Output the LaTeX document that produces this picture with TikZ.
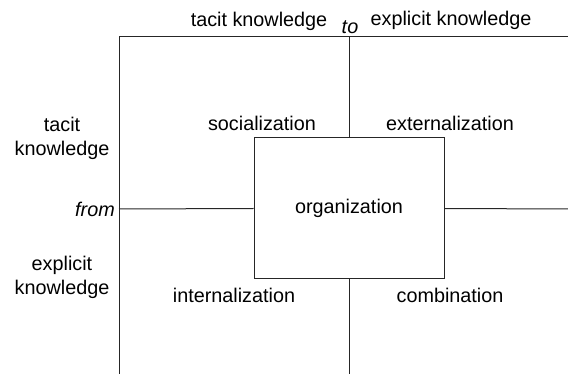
\documentclass[tikz,border=0pt]{standalone}
\usepackage{fontspec}
\setmainfont{Liberation Sans}
\usetikzlibrary{positioning}

\begin{document}
\begin{tikzpicture}[x=1pt,y=-1pt,
  lbl/.style={font=\fontsize{19.8}{24}\selectfont,inner sep=0pt},
  side/.style={lbl,align=center},
  grid/.style={line width=1pt,draw=black!85}]
  \useasboundingbox (0,0) rectangle (568,374);
  % frame corners
  \coordinate (tl) at (119,37);
  \coordinate (tr) at (568,37);
  \coordinate (bl) at (119,374);
  \coordinate (tm) at (349,37);
  \coordinate (bm) at (349,374);
  \coordinate (ml) at (119,209);
  \coordinate (mr) at (568,209);
  % center box
  \node[grid,lbl,minimum width=190pt,minimum height=141pt] (org) at (349,208.5) {organization};
  % lines
  \draw[grid] (tr) -- (tl) -- (bl);
  \draw[grid] (tm) -- (org.north);
  \draw[grid] (org.south) -- (bm);
  \draw[grid] (ml) -- (org.west);
  \draw[grid] (org.east) -- (mr);
  % headings
  \node[lbl] (tacitTo) at (259,21) {tacit knowledge};
  \node[lbl,font=\fontsize{19.8}{24}\selectfont\itshape] (to) at (350,27) {to};
  \node[lbl] (explicitTo) at (451,20) {explicit knowledge};
  \node[side] (tacitFrom) at (62,138) {tacit\\knowledge};
  \node[lbl,anchor=east,font=\fontsize{19.8}{24}\selectfont\itshape] (from) at (115,209) {from};
  \node[side] (explicitFrom) at (62,277) {explicit\\knowledge};
  % quadrants
  \node[lbl] (soc) at (262,123) {socialization};
  \node[lbl] (ext) at (450,123) {externalization};
  \node[lbl] (int) at (234,295) {internalization};
  \node[lbl] (com) at (450,295) {combination};
\end{tikzpicture}
\end{document}
